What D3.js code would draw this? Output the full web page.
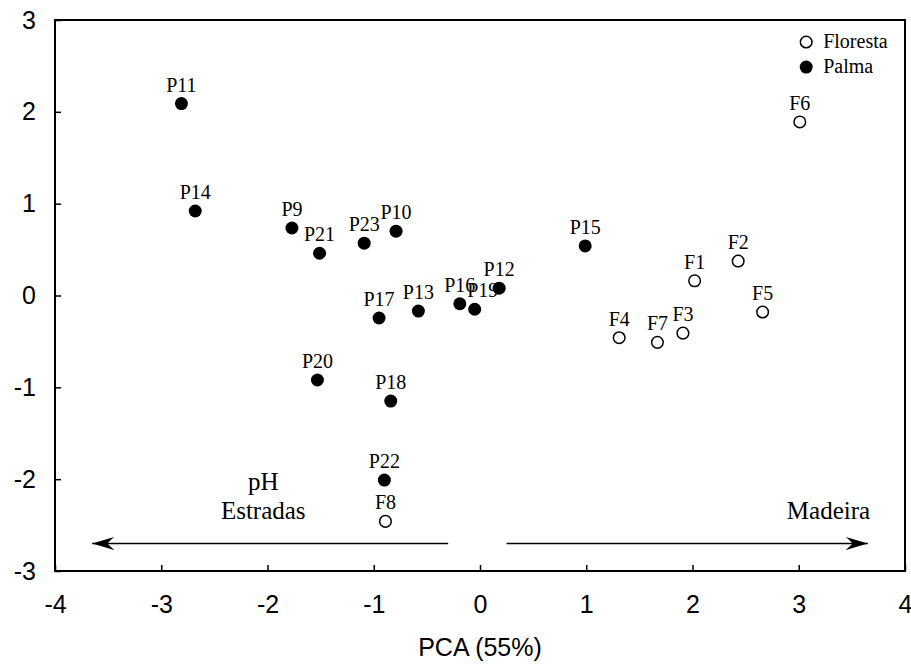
<!DOCTYPE html>
<html>
<head>
<meta charset="utf-8">
<script src="https://cdn.jsdelivr.net/npm/d3@7"></script>
<style>
  html, body { margin: 0; padding: 0; background: #fff; }
  svg { display: block; }
</style>
</head>
<body>
<svg id="chart" width="911" height="664"></svg>
<script>
// ---- data ----
const sites = ["P11","P14","P9","P21","P23","P10","P17","P13","P16","P19","P12","P15","P20","P18","P22",
               "F8","F6","F2","F1","F5","F3","F7","F4"];
const pcaX  = [-2.81,-2.68,-1.77,-1.51,-1.09,-0.79,-0.95,-0.58,-0.19,-0.05,0.18,0.99,-1.53,-0.84,-0.90,
               -0.89,3.01,2.43,2.02,2.66,1.91,1.67,1.31];
const pcaY  = [2.09,0.92,0.735,0.46,0.57,0.70,-0.245,-0.17,-0.09,-0.15,0.08,0.54,-0.92,-1.15,-2.01,
               -2.46,1.89,0.375,0.16,-0.18,-0.41,-0.51,-0.46];
const group = ["Palma","Palma","Palma","Palma","Palma","Palma","Palma","Palma","Palma","Palma","Palma","Palma","Palma","Palma","Palma",
               "Floresta","Floresta","Floresta","Floresta","Floresta","Floresta","Floresta","Floresta"];
const groups = ["Floresta","Palma"];
const xTicks = [-4,-3,-2,-1,0,1,2,3,4];
const yTicks = [-3,-2,-1,0,1,2,3];
const xTitle = "PCA (55%)";
const arrowLeft  = { from: -0.3, to: -3.65, y: -2.7 };
const arrowRight = { from: 0.25, to: 3.65, y: -2.7 };
const annLeft  = { lines: ["pH","Estradas"], x: -2.04 };
const annRight = { lines: ["Madeira"], x: 3.28 };

// ---- layout ----
const W = 911, H = 664;
const m = { left: 55, right: 6, top: 20, bottom: 93 };
const svg = d3.select("#chart");
const x = d3.scaleLinear().domain([-4,4]).range([m.left, W - m.right]);
const y = d3.scaleLinear().domain([-3,3]).range([H - m.bottom, m.top]);
const sans = "'Liberation Sans', Arial, sans-serif";
const serif = "'Liberation Serif', 'Times New Roman', serif";
const fmt = d => String(d); // hyphen-minus as in the reference

// axes
const xAxis = d3.axisBottom(x).tickValues(xTicks).tickFormat(fmt)
  .tickSizeInner(-6).tickSizeOuter(0).tickPadding(24);
const yAxis = d3.axisLeft(y).tickValues(yTicks).tickFormat(fmt)
  .tickSizeInner(-6).tickSizeOuter(0).tickPadding(19);

const gx = svg.append("g").attr("transform", `translate(0,${H - m.bottom})`).call(xAxis);
const gy = svg.append("g").attr("transform", `translate(${m.left},0)`).call(yAxis);
[gx, gy].forEach(g => {
  g.select(".domain").remove();
  g.selectAll(".tick line").attr("stroke", "#000").attr("stroke-width", 1.5);
  g.selectAll(".tick text").attr("font-family", sans).attr("font-size", 25).attr("fill", "#000");
});

// frame
svg.append("rect")
  .attr("x", m.left).attr("y", m.top)
  .attr("width", W - m.left - m.right).attr("height", H - m.top - m.bottom)
  .attr("fill", "none").attr("stroke", "#000").attr("stroke-width", 2);

// axis title
svg.append("text")
  .attr("x", (x(-4) + x(4)) / 2).attr("y", H - 8)
  .attr("text-anchor", "middle").attr("font-family", sans).attr("font-size", 25)
  .text(xTitle);

// arrows
const defs = svg.append("defs");
defs.append("marker").attr("id", "head")
  .attr("viewBox", "-22 -7 24 14").attr("refX", 0).attr("refY", 0)
  .attr("markerUnits", "userSpaceOnUse").attr("markerWidth", 24).attr("markerHeight", 14)
  .attr("orient", "auto")
  .append("path").attr("d", "M0,0 L-22,-6.5 L-15,0 L-22,6.5 Z").attr("fill", "#000");

[arrowLeft, arrowRight].forEach(a => {
  svg.append("line")
    .attr("x1", x(a.from)).attr("y1", y(a.y))
    .attr("x2", x(a.to)).attr("y2", y(a.y))
    .attr("stroke", "#000").attr("stroke-width", 1.5)
    .attr("marker-end", "url(#head)");
});

// annotations
const annBaseY = y(-2.43);
[annLeft, annRight].forEach(a => {
  const n = a.lines.length;
  a.lines.forEach((t, i) => {
    svg.append("text")
      .attr("x", x(a.x)).attr("y", annBaseY - (n - 1 - i) * 29)
      .attr("text-anchor", "middle").attr("font-family", serif).attr("font-size", 25)
      .text(t);
  });
});

// points
const pts = sites.map((s, i) => ({ name: s, x: pcaX[i], y: pcaY[i], g: group[i] }));
const labelDx = { "P19": 8 };

svg.append("g").selectAll("text").data(pts).join("text")
  .attr("x", d => x(d.x) + (labelDx[d.name] || 0))
  .attr("y", d => y(d.y) - 12)
  .attr("text-anchor", "middle").attr("font-family", serif).attr("font-size", 20)
  .text(d => d.name);

function drawMark(sel, g) {
  if (g === "Palma") {
    sel.attr("r", 6.5).attr("fill", "#000").attr("stroke", "none");
  } else {
    sel.attr("r", 5.8).attr("fill", "#fff").attr("stroke", "#000").attr("stroke-width", 1.5);
  }
}
svg.append("g").selectAll("circle").data(pts).join("circle")
  .attr("cx", d => x(d.x)).attr("cy", d => y(d.y))
  .each(function(d) { drawMark(d3.select(this), d.g); });

// legend
const leg = svg.append("g").attr("transform", `translate(${x(3.07)},${y(2.76)})`);
groups.forEach((g, i) => {
  const row = leg.append("g").attr("transform", `translate(0,${i * 25})`);
  row.append("circle").attr("cx", 0).attr("cy", 0).call(s => drawMark(s, g));
  row.append("text").attr("x", 17).attr("y", 6)
    .attr("font-family", serif).attr("font-size", 20).text(g);
});
</script>
</body>
</html>
